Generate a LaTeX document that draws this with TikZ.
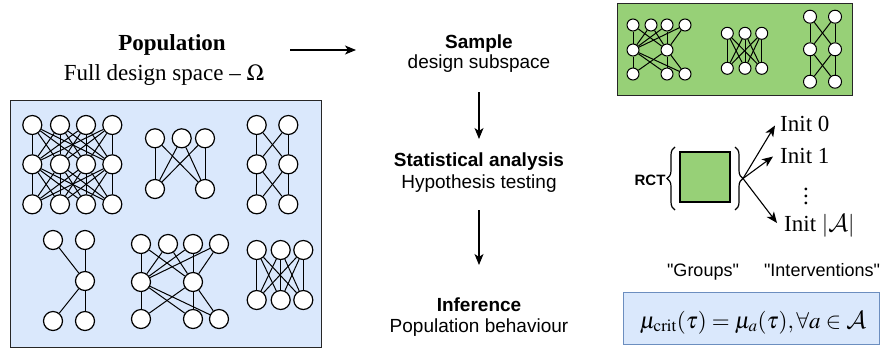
\documentclass[tikz,border=0pt]{standalone}
\usepackage{mathptmx}
\usepackage{fontspec}
\setmainfont{Liberation Serif}
\setsansfont{Liberation Sans}
\newfontfamily\plainsans{Liberation Sans}
\DeclareMathAlphabet{\mathcal}{OMS}{cmsy}{m}{n}
\usetikzlibrary{decorations.pathreplacing,arrows.meta}

\definecolor{popblue}{HTML}{DAE8FC}
\definecolor{popedge}{HTML}{6C8EBF}
\definecolor{samplegreen}{HTML}{97D077}

\pgfdeclarelayer{panel}
\pgfdeclarelayer{wires}
\pgfsetlayers{panel,wires,main}

\newcommand\serifbig{\fontsize{23}{27}\selectfont}
\newcommand\sansmid{\sffamily\fontsize{19}{22}\selectfont}
\newcommand\fullconnect[2]{%
  \foreach \src in {#1}{\foreach \dst in {#2}{\draw[wire] (\src) -- (\dst);}}}

\tikzset{
  nd/.style={circle, draw=black, fill=white, line width=1.2pt, minimum size=19pt, inner sep=0pt},
  snd/.style={circle, draw=black, fill=white, line width=1pt, minimum size=12pt, inner sep=0pt},
  wire/.style={draw=black, line width=1pt},
  arr/.style={draw=black, line width=1.1pt, -{Stealth[length=11pt,width=9pt,inset=3pt]}},
  txt/.style={anchor=base, inner sep=0pt, align=center},
  panelbox/.style={draw=black!85, line width=1.3pt},
  brace/.style={draw=black, line width=1.2pt, decorate, decoration={brace, amplitude=8pt}},
}

\begin{document}
\begin{tikzpicture}[x=1pt, y=-1pt]
\useasboundingbox (0,0) rectangle (890,349);

% ---------------- population panel ----------------
\begin{pgfonlayer}{panel}
\node[panelbox, fill=popblue, minimum width=311pt, minimum height=247pt, anchor=north west, inner sep=0pt] (popbox) at (10,100) {};
\end{pgfonlayer}

% network: 4-4-4 fully connected
\foreach \i/\x in {1/32.3,2/60,3/86,4/112.3}{
  \node[nd] (pa\i) at (\x,125) {};
  \node[nd] (pb\i) at (\x,164.3) {};
  \node[nd] (pc\i) at (\x,204.3) {};
}
% network: 3-2
\foreach \i/\x in {1/155,2/181.7,3/205}{ \node[nd] (qa\i) at (\x,138.3) {}; }
\node[nd] (qb1) at (155,189) {};
\node[nd] (qb2) at (205,189) {};
% network: 2-2-2
\foreach \i/\x in {1/256.7,2/288.3}{
  \node[nd] (ra\i) at (\x,125) {};
  \node[nd] (rb\i) at (\x,164.3) {};
  \node[nd] (rc\i) at (\x,204.3) {};
}
% network: 2-1-2
\node[nd] (sa1) at (53,240) {};
\node[nd] (sa2) at (85,240) {};
\node[nd] (sb1) at (85,281) {};
\node[nd] (sc1) at (53,321) {};
\node[nd] (sc2) at (85,321) {};
% network: 4-2-3
\foreach \i/\x in {1/141,2/168,3/193,4/219}{ \node[nd] (ta\i) at (\x,244) {}; }
\node[nd] (tb1) at (141,282) {};
\node[nd] (tb2) at (193,282) {};
\node[nd] (tc1) at (141,319) {};
\node[nd] (tc2) at (193,319) {};
\node[nd] (tc3) at (219,319) {};
% network: 3-3
\foreach \i/\x in {1/256.7,2/280.7,3/303.3}{
  \node[nd] (ua\i) at (\x,250) {};
  \node[nd] (ub\i) at (\x,300) {};
}

\begin{pgfonlayer}{wires}
  \fullconnect{pa1,pa2,pa3,pa4}{pb1,pb2,pb3,pb4}
  \fullconnect{pb1,pb2,pb3,pb4}{pc1,pc2,pc3,pc4}
  \fullconnect{qa1,qa2,qa3}{qb1,qb2}
  \fullconnect{ra1,ra2}{rb1,rb2}
  \fullconnect{rb1,rb2}{rc1,rc2}
  \fullconnect{sa1,sa2}{sb1}
  \fullconnect{sb1}{sc1,sc2}
  \fullconnect{ta1,ta2,ta3,ta4}{tb1,tb2}
  \fullconnect{tb1,tb2}{tc1,tc2,tc3}
  \fullconnect{ua1,ua2,ua3}{ub1,ub2,ub3}
\end{pgfonlayer}

% ---------------- headings ----------------
\node[txt, font=\serifbig\bfseries] (pop) at (172,50) {Population};
\node[txt, font=\serifbig] (popsub) at (164,80) {Full design space -- $\Omega$};

\node[txt, font=\sansmid\bfseries] (smp) at (479,48) {Sample};
\node[txt, font=\sansmid] (smpsub) at (479,68.3) {design subspace};

\node[txt, font=\sansmid\bfseries] (stat) at (479,166.7) {Statistical analysis};
\node[txt, font=\sansmid] (statsub) at (479,188) {Hypothesis testing};

\node[txt, font=\sansmid\bfseries] (inf) at (479,311.7) {Inference};
\node[txt, font=\sansmid] (infsub) at (479,332.7) {Population behaviour};

\coordinate (popout) at (290,50);
\coordinate (smpin) at (356,50);
\draw[arr] (popout) -- (smpin);
\coordinate (smpout) at (479,92);
\coordinate (statin) at (479,139);
\draw[arr] (smpout) -- (statin);
\coordinate (statout) at (479,210);
\coordinate (infin) at (479,265);
\draw[arr] (statout) -- (infin);

% ---------------- sample panel ----------------
\begin{pgfonlayer}{panel}
\node[panelbox, fill=samplegreen, minimum width=235pt, minimum height=92pt, anchor=north west, inner sep=0pt] (smpbox) at (617,3) {};
\end{pgfonlayer}
% network: 4-2-3
\foreach \i/\x in {1/633,2/651,3/667,4/685}{ \node[snd] (va\i) at (\x,25) {}; }
\node[snd] (vb1) at (633,50) {};
\node[snd] (vb2) at (667,50) {};
\node[snd] (vc1) at (633,74) {};
\node[snd] (vc2) at (667,74) {};
\node[snd] (vc3) at (685,74) {};
% network: 3-3
\foreach \i/\x in {1/727.3,2/745,3/761.7}{
  \node[snd] (wa\i) at (\x,33.3) {};
  \node[snd] (wb\i) at (\x,68.3) {};
}
% network: 2-2-2
\foreach \i/\x in {1/810,2/835}{
  \node[snd, minimum size=13pt] (xa\i) at (\x,16.7) {};
  \node[snd, minimum size=13pt] (xb\i) at (\x,49.3) {};
  \node[snd, minimum size=13pt] (xc\i) at (\x,81.7) {};
}
\begin{pgfonlayer}{wires}
  \fullconnect{va1,va2,va3,va4}{vb1,vb2}
  \fullconnect{vb1,vb2}{vc1,vc2,vc3}
  \fullconnect{wa1,wa2,wa3}{wb1,wb2,wb3}
  \fullconnect{xa1,xa2}{xb1,xb2}
  \fullconnect{xb1,xb2}{xc1,xc2}
\end{pgfonlayer}

% ---------------- randomised controlled trial ----------------
\node[txt, font=\sffamily\bfseries\fontsize{15}{18}\selectfont] (rct) at (650,185) {RCT};
\node[draw=black, line width=1.2pt, fill=samplegreen, minimum size=50pt, inner sep=0pt] (grp) at (705,177) {};
\coordinate (lbA) at (675,210);
\coordinate (lbB) at (675,147);
\draw[brace] (lbA) -- (lbB);
\coordinate (rbA) at (735,147);
\coordinate (rbB) at (735,210);
\draw[brace] (rbA) -- (rbB);
\coordinate (fan) at (743,178.5);

\node[txt, anchor=base west, font=\serifbig] (i0) at (780,131.7) {Init 0};
\node[txt, anchor=base west, font=\serifbig] (i1) at (780,163) {Init 1};
\node[inner sep=0pt, align=center, font=\fontsize{23}{7}\selectfont] (idots) at (806,196) {.\\.\\.};
\node[txt, anchor=base west, font=\serifbig] (ia) at (784,231.7) {Init $|\mathcal{A}|$};

\coordinate (t0) at (775,125.5);
\coordinate (t1) at (773,156.5);
\coordinate (ta) at (777,223);
\draw[arr] (fan) -- (t0);
\draw[arr] (fan) -- (t1);
\draw[arr] (fan) -- (ta);

\node[txt, font=\plainsans\fontsize{18}{21}\selectfont] (grplbl) at (703,276.7) {"Groups"};
\node[txt, font=\plainsans\fontsize{18}{21}\selectfont] (intlbl) at (822,276.7) {"Interventions"};

% ---------------- hypothesis ----------------
\begin{pgfonlayer}{panel}
\node[draw=popedge, line width=1.3pt, fill=popblue, minimum width=256pt, minimum height=52pt, anchor=north west, inner sep=0pt] (hypbox) at (623,292) {};
\end{pgfonlayer}
\node[txt, font=\serifbig] (hyp) at (753,328) {$\mu_{\mathrm{crit}}(\tau)=\mu_a(\tau),\forall a\in\mathcal{A}$};

\end{tikzpicture}
\end{document}
